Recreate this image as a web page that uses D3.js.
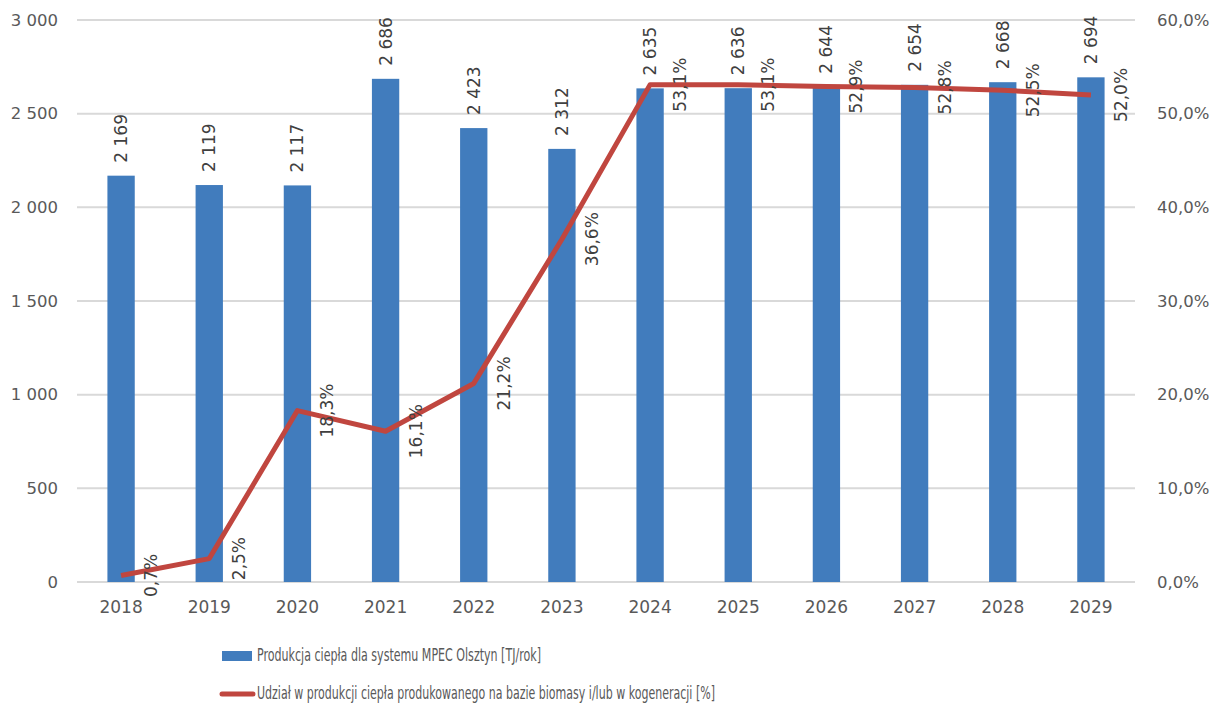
<!DOCTYPE html>
<html>
<head>
<meta charset="utf-8">
<script src="https://cdn.jsdelivr.net/npm/d3@7"></script>
<style>
  html, body { margin: 0; padding: 0; background: #ffffff; }
  svg { display: block; }
</style>
</head>
<body>
<svg id="chart" width="1211" height="704"></svg>
<script>
// Heat production for the MPEC Olsztyn network and the share of biomass / cogeneration
const years = ["2018", "2019", "2020", "2021", "2022", "2023", "2024", "2025", "2026", "2027", "2028", "2029"];
const heatProduction = [2169, 2119, 2117, 2686, 2423, 2312, 2635, 2636, 2644, 2654, 2668, 2694];
const biomassShare = [0.7, 2.5, 18.3, 16.1, 21.2, 36.6, 53.1, 53.1, 52.9, 52.8, 52.5, 52.0];
const leftTicks = [0, 500, 1000, 1500, 2000, 2500, 3000];
const rightTicks = [0, 10, 20, 30, 40, 50, 60];
const legendLabels = [
  "Produkcja ciepła dla systemu MPEC Olsztyn [TJ/rok]",
  "Udział w produkcji ciepła produkowanego na bazie biomasy i/lub w kogeneracji [%]"
];

const pl = d3.formatLocale({ decimal: ",", thousands: "\u00a0", grouping: [3], currency: ["", " zł"] });
const fmtInt = pl.format(",d");
const fmtPct = v => pl.format(".1f")(v) + "%";

const svg = d3.select("#chart");
const plotLeft = 77, plotRight = 1135, plotTop = 20, plotBottom = 582;

const x = d3.scaleBand().domain(years).range([plotLeft, plotRight]).paddingInner(0.69).paddingOuter(0.345);
const yL = d3.scaleLinear().domain([0, 3000]).range([plotBottom, plotTop]);
const yR = d3.scaleLinear().domain([0, 60]).range([plotBottom, plotTop]);
const cx = d => x(d) + x.bandwidth() / 2;

const font = "'DejaVu Sans', 'Liberation Sans', sans-serif";
const axisColor = "#595959";

// gridlines
svg.append("g").selectAll("line").data(leftTicks).join("line")
  .attr("x1", plotLeft).attr("x2", plotRight)
  .attr("y1", d => yL(d)).attr("y2", d => yL(d))
  .attr("stroke", "#d9d9d9").attr("stroke-width", 2);

// left axis labels
const axL = svg.append("g").attr("transform", `translate(${plotLeft - 19},0)`)
  .call(d3.axisLeft(yL).tickValues(leftTicks).tickFormat(fmtInt).tickSize(0).tickPadding(0));
axL.select(".domain").remove();
axL.selectAll("text").attr("font-family", font).attr("font-size", 16.5).attr("fill", axisColor);

// right axis labels
const axR = svg.append("g").attr("transform", `translate(${plotRight + 22},0)`)
  .call(d3.axisRight(yR).tickValues(rightTicks).tickFormat(fmtPct).tickSize(0).tickPadding(0));
axR.select(".domain").remove();
axR.selectAll("text").attr("font-family", font).attr("font-size", 16.5).attr("fill", axisColor);

// category axis labels
const axB = svg.append("g").attr("transform", `translate(0,${plotBottom + 19})`)
  .call(d3.axisBottom(x).tickSize(0).tickPadding(0));
axB.select(".domain").remove();
axB.selectAll("text").attr("font-family", font).attr("font-size", 17).attr("fill", axisColor);

// bars
svg.append("g").selectAll("rect").data(years).join("rect")
  .attr("x", d => x(d))
  .attr("width", x.bandwidth())
  .attr("y", (d, i) => yL(heatProduction[i]))
  .attr("height", (d, i) => yL(0) - yL(heatProduction[i]))
  .attr("fill", "#417cbd");

// bar value labels (rotated)
svg.append("g").selectAll("text").data(years).join("text")
  .attr("transform", (d, i) => `translate(${cx(d)},${yL(heatProduction[i]) - 13}) rotate(-90)`)
  .attr("text-anchor", "start")
  .attr("dy", "0.35em")
  .attr("font-family", font).attr("font-size", 17).attr("fill", "#404040")
  .text((d, i) => fmtInt(heatProduction[i]));

// share line
const line = d3.line().x((d, i) => cx(years[i])).y(d => yR(d));
svg.append("path").datum(biomassShare)
  .attr("d", line)
  .attr("fill", "none")
  .attr("stroke", "#c0463f")
  .attr("stroke-width", 5)
  .attr("stroke-linejoin", "round");

// share labels (rotated, right of points)
svg.append("g").selectAll("text").data(biomassShare).join("text")
  .attr("transform", (d, i) => `translate(${cx(years[i]) + 30},${yR(d)}) rotate(-90)`)
  .attr("text-anchor", "middle")
  .attr("dy", "0.35em")
  .attr("font-family", font).attr("font-size", 17).attr("fill", "#404040")
  .text(d => fmtPct(d));

// legend
const lg = svg.append("g");
lg.append("rect").attr("x", 222).attr("y", 651).attr("width", 30).attr("height", 10).attr("fill", "#417cbd");
lg.append("text").attr("x", 257).attr("y", 655).attr("dy", "0.35em")
  .attr("font-family", font).attr("font-size", 18).attr("fill", axisColor)
  .attr("textLength", 284).attr("lengthAdjust", "spacingAndGlyphs")
  .text(legendLabels[0]);
lg.append("line").attr("x1", 222).attr("x2", 253).attr("y1", 694).attr("y2", 694)
  .attr("stroke", "#c0463f").attr("stroke-width", 5).attr("stroke-linecap", "round");
lg.append("text").attr("x", 257).attr("y", 693).attr("dy", "0.35em")
  .attr("font-family", font).attr("font-size", 18).attr("fill", axisColor)
  .attr("textLength", 458).attr("lengthAdjust", "spacingAndGlyphs")
  .text(legendLabels[1]);
</script>
</body>
</html>
